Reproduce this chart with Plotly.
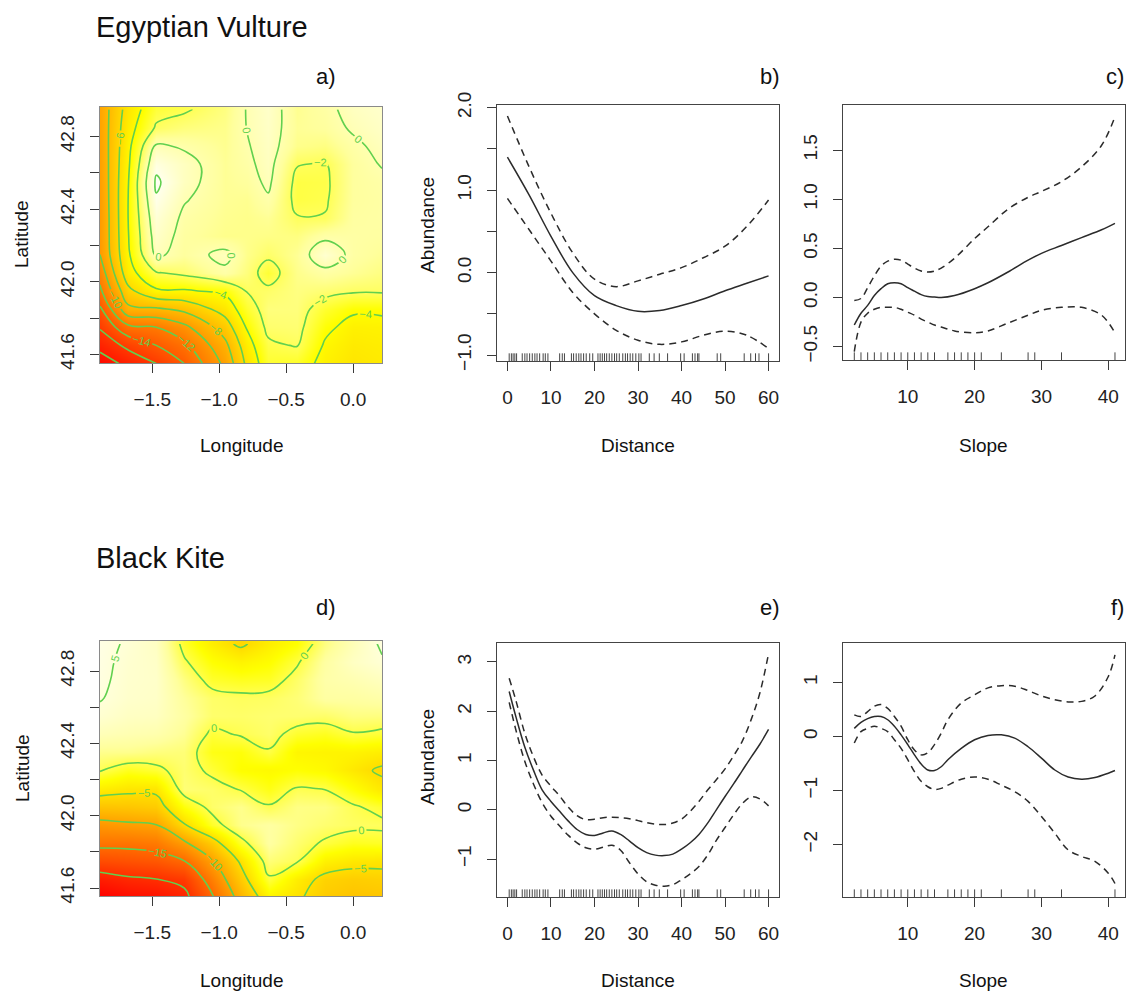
import numpy as np
import plotly.graph_objects as go

W, H = 1129, 992
FONT = "Liberation Sans, Arial, Helvetica, sans-serif"
INK = "#2b2b2b"
GREEN = "#61D04F"

# ---------------- spatial smooths (rows run south -> north) ----------------
lat_nodes = [41.55, 41.65, 41.75, 41.85, 41.95, 42.05, 42.15, 42.25,
             42.35, 42.45, 42.55, 42.65, 42.75, 42.85, 42.95]

lon_vulture = [-1.89, -1.68, -1.47, -1.26, -0.955, -0.79, -0.634, -0.42, -0.21, 0.0, 0.216]
z_vulture = [
    [-19.0, -17.5, -16.0, -14.0, -9.5, -5.5, -2.8, -3.0, -4.6, -5.3, -5.0],
    [-17.4, -15.5, -14.0, -12.5, -8.5, -4.8, -2.3, -1.9, -4.2, -5.0, -4.8],
    [-15.8, -12.5, -12.0, -10.5, -7.0, -3.8, -1.6, -1.5, -3.6, -4.6, -4.5],
    [-14.3, -8.5, -8.3, -7.5, -5.2, -2.8, -1.3, -1.3, -2.8, -3.7, -3.7],
    [-12.4, -6.5, -4.3, -4.2, -3.6, -1.9, -1.7, -1.2, -1.5, -1.8, -1.8],
    [-11.2, -4.8, -2.1, -1.6, -0.3, -1.3, -2.7, -1.0, -0.4, -0.8, -1.2],
    [-10.0, -4.3, 0.3, -0.6, 0.4, -1.0, -1.7, -0.8, 1.0, -0.4, -0.8],
    [-9.9, -4.1, 0.8, -0.5, -1.0, -1.0, -1.1, -1.2, -0.3, -0.4, -0.5],
    [-9.9, -4.0, 1.2, -0.3, -0.9, -1.0, -0.8, -1.9, -1.9, -0.5, -0.4],
    [-9.8, -4.0, 1.8, 0.1, -0.8, -0.9, -0.2, -2.4, -2.2, -0.6, -0.4],
    [-9.7, -4.1, 2.3, 0.5, -0.8, -0.6, 0.3, -2.4, -2.3, -0.6, -0.3],
    [-9.6, -4.3, 1.5, 0.5, -0.8, -0.3, 0.5, -1.9, -2.1, -0.6, 0.1],
    [-9.5, -4.5, 0.2, -0.2, -0.9, -0.1, 0.6, -1.0, -1.2, -0.3, 0.4],
    [-9.4, -4.8, -1.8, -1.3, -1.0, 0.05, 0.7, -0.8, -0.6, 0.2, 0.7],
    [-9.3, -5.2, -2.6, -2.2, -1.2, 0.1, 0.8, -0.9, -0.4, 0.5, 0.9],
]

lon_kite = [-1.89, -1.68, -1.47, -1.26, -1.05, -0.84, -0.63, -0.42, -0.21, 0.0, 0.216]
# one list per longitude, south -> north
z_kite_cols = [
    [-24.0, -21.5, -17.5, -14.0, -11.0, -7.2, -3.5, 0.2, 1.8, 3.5, 4.6, 5.1, 5.3, 5.4, 5.5],
    [-23.0, -20.5, -17.0, -14.0, -10.5, -7.0, -4.2, -1.2, 1.8, 3.2, 4.0, 4.4, 4.5, 4.6, 4.8],
    [-22.5, -20.0, -16.5, -13.5, -10.0, -6.5, -4.2, -0.6, 1.4, 3.0, 3.9, 4.2, 4.3, 4.2, 4.0],
    [-21.0, -19.0, -15.0, -10.5, -5.2, -1.8, 1.2, 1.0, 1.2, 2.0, 2.5, 2.2, 1.5, 0.3, -0.8],
    [-15.3, -13.0, -10.2, -6.5, -1.0, 0.8, 0.8, -0.5, -1.5, -0.5, 0.9, 0.8, -0.8, -2.0, -3.5],
    [-8.5, -6.5, -4.5, -0.8, 1.8, 1.8, -0.2, -2.2, -1.8, 0.2, 0.8, 0.5, -1.2, -3.0, -5.5],
    [-3.0, -0.3, 1.2, 2.5, 2.5, 0.2, -1.5, -2.5, -0.2, 0.8, 1.0, 0.6, -1.0, -2.2, -3.5],
    [-4.5, -3.5, 0.3, 1.0, 1.6, 1.6, 0.2, -2.0, -2.8, -0.8, 1.0, 1.2, 0.8, -0.3, -2.0],
    [-6.5, -5.8, -3.2, -0.3, 1.0, 1.5, -0.1, -2.5, -3.0, -1.2, 0.8, 2.5, 2.8, 2.5, 1.5],
    [-7.2, -6.3, -4.0, -1.2, 0.6, 0.3, -2.0, -4.0, -3.0, -0.2, 1.5, 2.5, 3.2, 4.0, 3.5],
    [-7.0, -6.0, -4.2, -1.0, 0.5, -0.8, -4.0, -5.5, -3.5, -0.6, 1.4, 2.8, 3.8, 4.8, 5.3],
]
z_kite = np.array(z_kite_cols).T.tolist()

# ---------------- partial effects ----------------
dist_ev = [0, 5, 10, 15, 20, 25, 30, 35, 40, 45, 50, 55, 60]
fit_dist_ev = [1.40, 0.94, 0.44, 0.00, -0.28, -0.40, -0.47, -0.46, -0.40, -0.32, -0.22, -0.13, -0.04]
hi_dist_ev = [1.90, 1.28, 0.72, 0.24, -0.08, -0.17, -0.10, -0.02, 0.06, 0.18, 0.32, 0.56, 0.88]
lo_dist_ev = [0.90, 0.52, 0.14, -0.24, -0.50, -0.70, -0.82, -0.87, -0.84, -0.76, -0.71, -0.76, -0.92]

slope_ev = [2, 3, 4, 5, 6, 7, 8, 9, 10, 11, 12, 13, 14, 15, 17, 20, 22, 25, 28, 30, 33, 36, 39, 41]
fit_slope_ev = [-0.28, -0.16, -0.08, 0.02, 0.09, 0.14, 0.15, 0.14, 0.10, 0.065, 0.03, 0.01, 0.005,
                0.0, 0.02, 0.09, 0.15, 0.26, 0.38, 0.45, 0.53, 0.61, 0.69, 0.755]
hi_slope_ev = [-0.03, -0.01, 0.10, 0.22, 0.32, 0.37, 0.39, 0.38, 0.34, 0.30, 0.27, 0.26, 0.27,
               0.30, 0.40, 0.60, 0.72, 0.90, 1.02, 1.08, 1.18, 1.33, 1.55, 1.84]
lo_slope_ev = [-0.55, -0.25, -0.16, -0.12, -0.10, -0.10, -0.10, -0.12, -0.15, -0.18, -0.22, -0.25,
               -0.28, -0.30, -0.34, -0.36, -0.34, -0.26, -0.18, -0.13, -0.10, -0.10, -0.18, -0.36]

dist_bk = [0.4, 2, 4, 6, 8, 10, 12, 14, 16, 18, 20, 22, 24, 26, 28, 30, 32, 34, 36, 38, 40,
           42, 44, 46, 48, 50, 52, 54, 56, 58, 60]
fit_dist_bk = [2.40, 1.87, 1.27, 0.80, 0.40, 0.17, -0.03, -0.23, -0.40, -0.50, -0.52, -0.47, -0.43,
               -0.50, -0.63, -0.77, -0.87, -0.92, -0.93, -0.90, -0.80, -0.67, -0.50, -0.27, 0.0,
               0.27, 0.53, 0.80, 1.07, 1.33, 1.63]
hi_dist_bk = [2.67, 2.20, 1.55, 1.07, 0.70, 0.48, 0.28, 0.05, -0.12, -0.20, -0.19, -0.16, -0.15,
              -0.16, -0.18, -0.22, -0.26, -0.29, -0.30, -0.27, -0.19, -0.03, 0.17, 0.40, 0.61,
              0.83, 1.10, 1.40, 1.83, 2.37, 3.17]
lo_dist_bk = [2.18, 1.60, 0.98, 0.52, 0.14, -0.13, -0.33, -0.52, -0.67, -0.77, -0.80, -0.76, -0.72,
              -0.82, -1.07, -1.30, -1.46, -1.53, -1.55, -1.52, -1.42, -1.30, -1.15, -0.92, -0.62,
              -0.36, -0.10, 0.13, 0.26, 0.22, 0.08]

slope_bk = [2, 3, 4, 5, 6, 7, 8, 9, 10, 11, 12, 13, 14, 15, 16, 18, 20, 22, 24, 26, 28, 30, 32,
            34, 36, 38, 40, 41]
fit_slope_bk = [0.15, 0.26, 0.33, 0.37, 0.37, 0.31, 0.19, 0.03, -0.15, -0.34, -0.51, -0.62, -0.63,
                -0.56, -0.43, -0.22, -0.06, 0.02, 0.03, -0.03, -0.19, -0.40, -0.62, -0.75, -0.79,
                -0.76, -0.68, -0.63]
hi_slope_bk = [0.40, 0.37, 0.46, 0.56, 0.59, 0.52, 0.37, 0.19, -0.06, -0.25, -0.34, -0.30, -0.15,
               0.06, 0.31, 0.62, 0.77, 0.90, 0.94, 0.93, 0.85, 0.75, 0.68, 0.64, 0.65, 0.75, 1.11, 1.51]
lo_slope_bk = [-0.12, 0.09, 0.15, 0.19, 0.15, 0.09, -0.06, -0.22, -0.43, -0.65, -0.83, -0.93, -0.98,
               -0.96, -0.90, -0.79, -0.75, -0.79, -0.90, -1.02, -1.20, -1.48, -1.79, -2.10, -2.22,
               -2.31, -2.53, -2.72]

# observed covariate values (rug)
dist_rug = [0.4, 0.9, 1.3, 1.7, 2.1, 3.4, 4.0, 4.5, 5.1, 5.7, 6.3, 6.8, 7.4, 8.2, 8.7, 9.3,
            12.0, 12.6, 13.1, 14.7, 15.2, 15.8, 16.4, 16.9, 17.5, 18.1, 18.9, 19.6, 20.8, 21.3,
            21.8, 22.3, 22.8, 23.4, 24.0, 24.6, 25.1, 25.7, 26.5, 27.1, 27.6, 28.2, 28.8, 29.5,
            30.2, 30.7, 32.6, 33.7, 34.9, 36.8, 39.8, 40.6, 42.5, 43.1, 43.7, 44.0, 48.2, 49.0,
            54.4, 55.9, 57.0, 57.8, 60.0]
slope_rug = [2, 3, 4, 5, 6, 7, 8, 9, 10, 11, 12, 13, 14, 16, 17, 18, 19, 20, 21, 24, 28, 29, 33, 41]

# ---------------- layout helpers ----------------
def xdom(x0, x1):
    return [x0 / W, x1 / W]


def ydom(y0, y1):
    return [1 - y1 / H, 1 - y0 / H]


boxes = {
    1: (100, 107, 382, 363),
    2: (497, 105, 779, 361),
    3: (843, 105, 1125, 360),
    4: (100, 641, 382, 896),
    5: (497, 643, 779, 897),
    6: (843, 643, 1125, 897),
}

# red -> yellow -> near white, heat-style palette
heat_scale = [[0.0, "#FF0000"], [0.72, "#FFFF00"], [0.86, "#FFFF9C"], [1.0, "#FFFFFA"]]

fig = go.Figure()


def add_surface(n, lon, z, zmin, zmax, start, end, step):
    xa, ya = f"x{n}", f"y{n}"
    fig.add_trace(go.Heatmap(x=lon, y=lat_nodes, z=z, colorscale=heat_scale, zmin=zmin,
                             zmax=zmax, zsmooth="best", showscale=False, hoverinfo="skip",
                             xaxis=xa, yaxis=ya))
    fig.add_trace(go.Contour(x=lon, y=lat_nodes, z=z, showscale=False, hoverinfo="skip",
                             contours=dict(coloring="none", start=start, end=end, size=step,
                                           showlabels=True,
                                           labelfont=dict(size=11, color=GREEN, family=FONT)),
                             line=dict(color=GREEN, width=1.6, smoothing=1.2),
                             xaxis=xa, yaxis=ya))


def add_effect(n, xs, fit, lo, hi, rug):
    xa, ya = f"x{n}", f"y{n}"
    for series, dash in ((hi, "7px,5px"), (lo, "7px,5px"), (fit, "solid")):
        fig.add_trace(go.Scatter(x=xs, y=series, mode="lines", hoverinfo="skip",
                                 line=dict(color=INK, width=1.5, dash=dash,
                                           shape="spline", smoothing=1.0),
                                 xaxis=xa, yaxis=ya))
    for v in rug:
        fig.add_shape(type="line", xref=xa, yref=f"{ya} domain", x0=v, x1=v, y0=0, y1=0.03,
                      line=dict(color="#444444", width=1))


add_surface(1, lon_vulture, z_vulture, -19.5, 2.4, -18, 2, 2)
add_effect(2, dist_ev, fit_dist_ev, lo_dist_ev, hi_dist_ev, dist_rug)
add_effect(3, slope_ev, fit_slope_ev, lo_slope_ev, hi_slope_ev, slope_rug)
add_surface(4, lon_kite, z_kite, -24, 6.5, -20, 5, 5)
add_effect(5, dist_bk, fit_dist_bk, lo_dist_bk, hi_dist_bk, dist_rug)
add_effect(6, slope_bk, fit_slope_bk, lo_slope_bk, hi_slope_bk, slope_rug)

# ---------------- axes ----------------
lon_ticks = [-1.5, -1.0, -0.5, 0.0]
lon_text = ["\u22121.5", "\u22121.0", "\u22120.5", "0.0"]
lat_ticks = [41.6, 41.8, 42.0, 42.2, 42.4, 42.6, 42.8]
lat_text = ["41.6", "", "42.0", "", "42.4", "", "42.8"]

axis_specs = {
    1: dict(xr=[-1.89, 0.216], yr=[41.553, 42.963], xt=(lon_ticks, lon_text), yt=(lat_ticks, lat_text), box="#8a8a8a"),
    2: dict(xr=[-2.4, 62.4], yr=[-1.072, 2.033],
            xt=([0, 10, 20, 30, 40, 50, 60], ["0", "10", "20", "30", "40", "50", "60"]),
            yt=([-1, -0.5, 0, 0.5, 1, 1.5, 2], ["\u22121.0", "", "0.0", "", "1.0", "", "2.0"]), box="#444444"),
    3: dict(xr=[0.31, 42.5], yr=[-0.636, 1.96],
            xt=([10, 20, 30, 40], ["10", "20", "30", "40"]),
            yt=([-0.5, 0, 0.5, 1, 1.5], ["\u22120.5", "0.0", "0.5", "1.0", "1.5"]), box="#444444"),
    4: dict(xr=[-1.89, 0.216], yr=[41.556, 42.966], xt=(lon_ticks, lon_text), yt=(lat_ticks, lat_text), box="#8a8a8a"),
    5: dict(xr=[-2.4, 62.4], yr=[-1.77, 3.385],
            xt=([0, 10, 20, 30, 40, 50, 60], ["0", "10", "20", "30", "40", "50", "60"]),
            yt=([-1, 0, 1, 2, 3], ["\u22121", "0", "1", "2", "3"]), box="#444444"),
    6: dict(xr=[0.31, 42.5], yr=[-2.97, 1.73],
            xt=([10, 20, 30, 40], ["10", "20", "30", "40"]),
            yt=([-2, -1, 0, 1], ["\u22122", "\u22121", "0", "1"]), box="#444444"),
}

layout_axes = {}
for n, spec in axis_specs.items():
    x0, y0, x1, y1 = boxes[n]
    common = dict(showgrid=False, zeroline=False, showline=True, mirror=True,
                  linecolor=spec["box"], linewidth=1, ticks="outside", ticklen=9,
                  tickwidth=1, tickcolor="#3a3a3a", fixedrange=True, automargin=False,
                  tickfont=dict(family=FONT, size=19, color="#222222"))
    suffix = "" if n == 1 else str(n)
    layout_axes["xaxis" + suffix] = dict(common, domain=xdom(x0, x1), range=spec["xr"],
                                         anchor=f"y{n}", tickmode="array",
                                         tickvals=spec["xt"][0], ticktext=spec["xt"][1],
                                         ticklabelstandoff=10)
    layout_axes["yaxis" + suffix] = dict(common, domain=ydom(y0, y1), range=spec["yr"],
                                         anchor=f"x{n}", tickmode="array",
                                         tickvals=spec["yt"][0], ticktext=spec["yt"][1],
                                         tickangle=-90, ticklabelstandoff=8)

# ---------------- text ----------------
def ann(text, x, y, size, xanchor="center", angle=0):
    return dict(text=text, x=x / W, y=1 - y / H, xref="paper", yref="paper", showarrow=False,
                xanchor=xanchor, yanchor="middle", textangle=angle,
                font=dict(family=FONT, size=size, color="#111111"))


annotations = [
    ann("Egyptian Vulture", 94, 27, 29, "left"),
    ann("Black Kite", 94, 558, 29, "left"),
    ann("a)", 338, 76, 22, "right"),
    ann("b)", 782, 76, 22, "right"),
    ann("c)", 1126, 76, 22, "right"),
    ann("d)", 338, 607, 22, "right"),
    ann("e)", 782, 607, 22, "right"),
    ann("f)", 1126, 607, 22, "right"),
    ann("Longitude", 241, 445, 19),
    ann("Distance", 638, 445, 19),
    ann("Slope", 984, 445, 19),
    ann("Longitude", 241, 980, 19),
    ann("Distance", 638, 980, 19),
    ann("Slope", 984, 980, 19),
    ann("Latitude", 22, 234, 19, angle=-90),
    ann("Latitude", 22, 768, 19, angle=-90),
    ann("Abundance", 427, 225, 19, angle=-90),
    ann("Abundance", 427, 757, 19, angle=-90),
]

fig.update_layout(template="none", width=W, height=H, autosize=False,
                  margin=dict(l=0, r=0, t=0, b=0, pad=0, autoexpand=False),
                  paper_bgcolor="white", plot_bgcolor="white", showlegend=False,
                  annotations=annotations, **layout_axes)

fig.write_html("out.html")
